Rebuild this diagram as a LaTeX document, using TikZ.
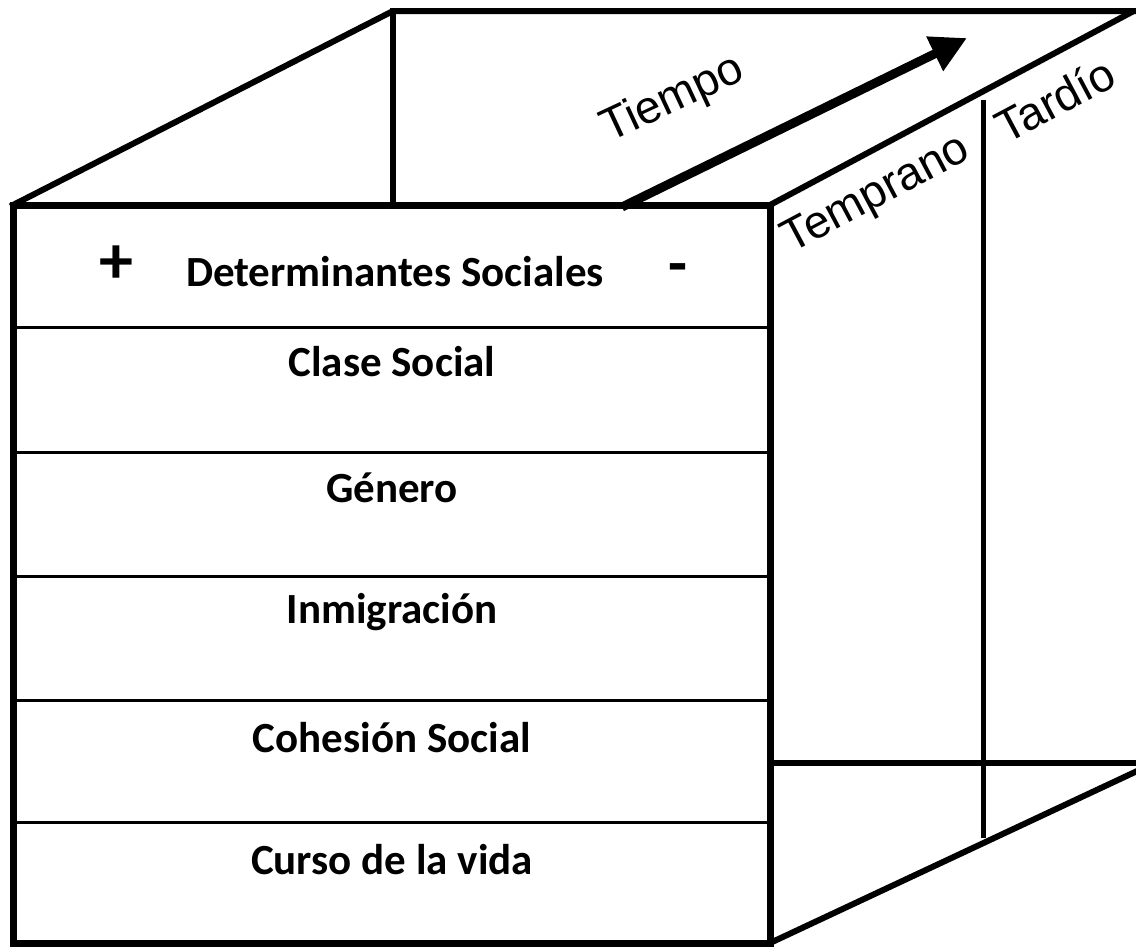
\documentclass[tikz,border=0pt]{standalone}
\usepackage{fontspec}
\setmainfont{Carlito}
\newfontfamily\arialfont{Liberation Sans}
\usetikzlibrary{arrows.meta}
\begin{document}
\begin{tikzpicture}[x=1pt,y=-1pt,
  frontedge/.style={line width=7pt,line cap=rect,line join=miter},
  backedge/.style={line width=6pt,line cap=rect},
  divider/.style={line width=3pt},
  rowlabel/.style={font=\fontsize{43}{47}\selectfont\bfseries,anchor=center},
  sidelabel/.style={font=\arialfont\fontsize{46}{50}\selectfont,anchor=center}]
\useasboundingbox (0,0) rectangle (1136,951);
\clip (0,0) rectangle (1136,951);
% cube corners
\coordinate (FTL) at (13,205);
\coordinate (FTR) at (770,205);
\coordinate (FBL) at (13,943);
\coordinate (FBR) at (770,943);
\coordinate (BTL) at (393,11);
\coordinate (BTE) at (1150,11);
\coordinate (BTR) at (1130,13);
\coordinate (BBR) at (1150,763);
\coordinate (BBM) at (770,763);
% back edges
\draw[backedge] (FTL) -- (BTL) -- (BTE);
\draw[backedge] (FTR) -- (BTR);
\draw[backedge] (BTL) -- (393,205);
\draw[backedge] (BBM) -- (BBR);
\draw[backedge] (FBR) -- (1150,765);
% time divider line
\coordinate (VT) at (983,100);
\coordinate (VB) at (983,838);
\draw[line width=5pt] (VT) -- (VB);
% arrow
\coordinate (AS) at (622,207);
\coordinate (AE) at (967,38);
\draw[line width=9pt,-{Triangle[length=36pt,width=36pt]}] (AS) -- (AE);
% dividers
\foreach \y in {327,452,576,700,822} \draw[divider] (13,\y) -- (770,\y);
% front face
\draw[frontedge] (FTL) rectangle (FBR);
% labels
\node[rowlabel] (ds) at (395,272) {Determinantes Sociales};
\node[font=\fontsize{68}{72}\selectfont\bfseries] (plus) at (116,265) {+};
\node[font=\fontsize{62}{66}\selectfont\bfseries] (minus) at (678,274) {-};
\node[rowlabel] (cs) at (392,362) {Clase Social};
\node[rowlabel] (ge) at (392,488) {Género};
\node[rowlabel] (in) at (392,612) {Inmigración};
\node[rowlabel] (co) at (392,738) {Cohesión Social};
\node[rowlabel] (cu) at (392,860) {Curso de la vida};
\node[sidelabel,rotate=25] (ti) at (673,100) {Tiempo};
\node[sidelabel,rotate=28] (te) at (877,196) {Temprano};
\node[sidelabel,rotate=28] (ta) at (1055,100) {Tardío};
\end{tikzpicture}
\end{document}
